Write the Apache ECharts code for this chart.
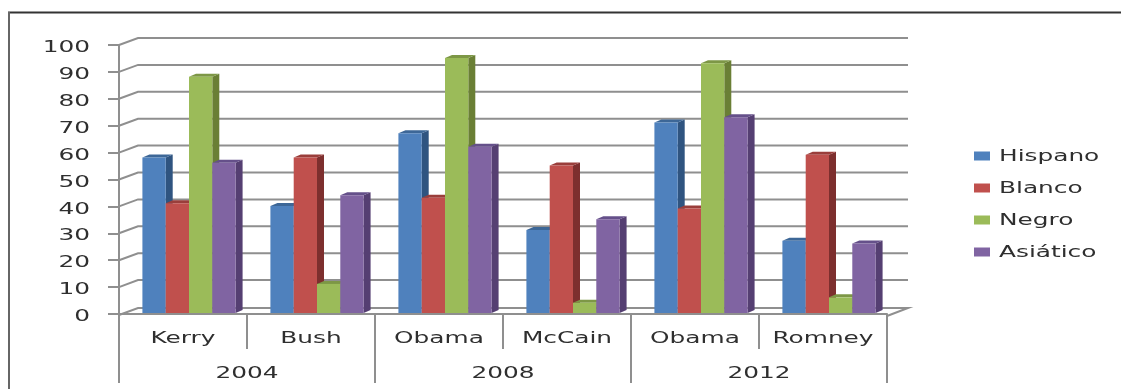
<!DOCTYPE html>
<html><head><meta charset="utf-8">
<style>html,body{margin:0;padding:0;background:#fff}#c{width:1121px;height:389px}</style>
<script src="https://cdn.jsdelivr.net/npm/echarts@6/dist/echarts.min.js"></script>
</head><body><div id="c"></div>
<script>
const candidates = ['Kerry','Bush','Obama','McCain','Obama','Romney'];
const years = ['2004','2008','2012'];
const seriesNames = ['Hispano','Blanco','Negro','Asiático'];
const hispano = [58,40,67,31,71,27];
const blanco = [41,58,43,55,39,59];
const negro = [88,11,95,4,93,6];
const asiatico = [56,44,62,35,73,26];
const frontColors = ['#4f81bd','#c0504d','#9bbb59','#8064a2'];
const sideColors = ['#2f5480','#7d2f2e','#6a7f35','#553f72'];
const topColors = ['#3d6797','#9a3e3b','#7d9746','#65508a'];
const yTicks = [0,10,20,30,40,50,60,70,80,90,100];
const FONT = 'DejaVu Sans', FS = 16, STRETCH = 1.55, TXT = '#2f2f2f', LINE = '#8f8f8f';
const chart = echarts.init(document.getElementById('c'), null, {renderer:'canvas'});

function wideText(text, x, y, align){
  return {type:'text', x:x, y:y, scaleX:STRETCH, silent:true,
    style:{text:text, fontFamily:FONT, fontSize:FS, fill:TXT, align:align, verticalAlign:'middle'}};
}
function bar3d(idx){
  return function(params, api){
    const c = api.value(0), v = api.value(1);
    const band = api.size([1,0])[0];
    const w = band*0.182;
    const center = api.coord([c,0])[0] + 6;
    const x = center + (idx-2)*w;
    const y0 = api.coord([c,0])[1] - 1;
    const y1 = api.coord([c,v])[1] - 0.5;
    const dx = 7, dy = 3;
    return {type:'group', children:[
      {type:'polygon', shape:{points:[[x+w,y1],[x+w+dx,y1-dy],[x+w+dx,y0-dy],[x+w,y0]]}, style:{fill:sideColors[idx]}},
      {type:'polygon', shape:{points:[[x,y1],[x+dx,y1-dy],[x+w+dx,y1-dy],[x+w,y1]]}, style:{fill:topColors[idx]}},
      {type:'rect', shape:{x:x,y:y1,width:w,height:y0-y1}, style:{fill:frontColors[idx]}}
    ]};
  };
}
function wall(params, api){
  const p = api.coord([0, api.value(1)]);
  const cs = params.coordSys, y = p[1], l = cs.x, r = cs.x+cs.width;
  const pts = api.value(1)===0
    ? [[l,y+1],[l+19,y-6],[r+21,y-6],[r,y+2]]
    : [[l,y],[l+19,y-7],[r+21,y-7]];
  return {type:'polyline', shape:{points:pts}, style:{stroke:LINE, lineWidth:2, fill:null}, silent:true};
}
function yLabel(params, api){
  const p = api.coord([0, api.value(1)]);
  return wideText(String(api.value(1)), params.coordSys.x-29, p[1]+3, 'right');
}
function catLabel(names, dy){
  return function(params, api){
    const p = api.coord([api.value(0), 0]);
    return wideText(names[params.dataIndex], p[0], p[1]+dy, 'center');
  };
}
const vals = [hispano,blanco,negro,asiatico];
chart.setOption({
  animation:false, backgroundColor:'#fff',
  legend:{orient:'vertical', left:974, top:151.5, itemWidth:16, itemHeight:9, itemGap:23, icon:'rect', padding:0,
    data:seriesNames, formatter:()=>' ', textStyle:{fontSize:1}},
  grid:{left:119,right:234,top:45,bottom:75,containLabel:false},
  xAxis:[
    {type:'category',data:candidates,position:'bottom',
     axisLine:{lineStyle:{color:LINE,width:2}},
     axisTick:{show:true,length:35,lineStyle:{color:LINE,width:2}},
     axisLabel:{show:false}},
    {type:'category',data:years,position:'bottom',
     axisLine:{show:false},
     axisTick:{show:true,length:69,lineStyle:{color:LINE,width:2}},
     axisLabel:{show:false}}
  ],
  yAxis:{type:'value',min:0,max:100,interval:10,
    axisLine:{show:true,lineStyle:{color:LINE,width:2}},
    axisTick:{show:true,length:11,lineStyle:{color:LINE,width:2}},
    splitLine:{show:false},
    axisLabel:{show:false}},
  graphic:[
    {type:'line',shape:{x1:8,y1:12.5,x2:1121,y2:12.5},style:{stroke:'#333',lineWidth:2}},
    {type:'line',shape:{x1:9,y1:12,x2:9,y2:389},style:{stroke:'#666',lineWidth:2}},
    ...seriesNames.map((n,i)=>({type:'text',x:999,y:156.5+i*32,scaleX:STRETCH,silent:true,
      style:{text:n,fontFamily:FONT,fontSize:FS,fill:TXT,align:'left',verticalAlign:'middle'}}))
  ],
  series:[
    {type:'custom',name:'wall',renderItem:wall,silent:true,clip:false,z:1,
     data:yTicks.map(v=>[0,v]),encode:{x:0,y:1}},
    ...seriesNames.map((n,i)=>({type:'custom',name:n,renderItem:bar3d(i),clip:false,z:2+i,
      itemStyle:{color:frontColors[i]},
      data:vals[i].map((v,c)=>[c,v]),encode:{x:0,y:1}})),
    {type:'custom',name:'yLabels',renderItem:yLabel,silent:true,clip:false,z:8,
     data:yTicks.map(v=>[0,v]),encode:{x:0,y:1}},
    {type:'custom',name:'catLabels',renderItem:catLabel(candidates,25),silent:true,clip:false,z:8,
     data:candidates.map((n,i)=>[i,0]),encode:{x:0,y:1}},
    {type:'custom',name:'yearLabels',renderItem:catLabel(years,60),silent:true,clip:false,z:8,xAxisIndex:1,
     data:years.map((n,i)=>[i,0]),encode:{x:0,y:1}}
  ]
});
</script></body></html>
